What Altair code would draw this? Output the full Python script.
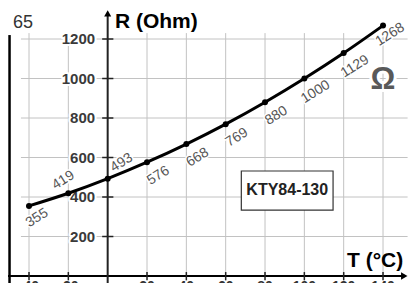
import altair as alt
import pandas as pd

# ---- data ----
temps = [-40, -20, 0, 20, 40, 60, 80, 100, 120, 140]
resist = [355, 419, 493, 576, 668, 769, 880, 1000, 1129, 1268]
y_ticks = [200, 400, 600, 800, 1000, 1200]
x_ticks = [-40, -20, 20, 40, 60, 80, 100, 120, 140]
x_tick_labels = ["-40", "-20", "20", "40", "60", "80", "100", "120", "140"]
y_title = "R (Ohm)"
x_title = "T (°C)"
unit = "Ω"
sensor = "KTY84-130"
corner = "P 65"

FONT = "Liberation Sans"
X_MIN, X_MAX = -50.68, 152.7
Y_MIN, Y_MAX = -35.4, 1357
xs = alt.Scale(domain=[X_MIN, X_MAX], nice=False, zero=False)
ys = alt.Scale(domain=[Y_MIN, Y_MAX], nice=False, zero=False)

curve = pd.DataFrame({"T": temps, "R": resist, "label": [str(r) for r in resist]})


def frame(n=1, **cols):
    """Small table for an annotation layer; scalars are broadcast."""
    d = {}
    for k, v in cols.items():
        d[k] = list(v) if isinstance(v, (list, tuple)) else [v] * n
    return pd.DataFrame(d)


def X(f="x"):
    return alt.X(f"{f}:Q", scale=xs, axis=None)


def Y(f="y"):
    return alt.Y(f"{f}:Q", scale=ys, axis=None)


def X2(f="x2"):
    return alt.X2(f"{f}:Q")


def Y2(f="y2"):
    return alt.Y2(f"{f}:Q")


nx, ny = len(x_ticks), len(y_ticks)
GRID = "#c2c2c2"
layers = []

# grid
layers.append(alt.Chart(frame(nx, x=x_ticks, y=0, y2=1230)).mark_rule(color=GRID, strokeWidth=1).encode(
    x=X(), y=Y(), y2=Y2()))
layers.append(alt.Chart(frame(ny, y=y_ticks, x=-44.1, x2=152.5)).mark_rule(color=GRID, strokeWidth=1).encode(
    y=Y(), x=X(), x2=X2()))

# left frame line
layers.append(alt.Chart(frame(x=-49.9, y=Y_MIN, y2=1220)).mark_rule(color="black", strokeWidth=2.5).encode(
    x=X(), y=Y(), y2=Y2()))


def halo_text(df, enc, halo_w, **mk):
    kw_h = dict(mk)
    kw_h.update(color="white", stroke="white", strokeWidth=halo_w, strokeJoin="round")
    return [alt.Chart(df).mark_text(**kw_h).encode(**enc),
            alt.Chart(df).mark_text(**mk).encode(**enc)]


# y labels with white halo
layers += halo_text(
    frame(ny, x=-6.4, y=y_ticks, label=[str(v) for v in y_ticks]),
    dict(x=X(), y=Y(), text="label:N"), 4,
    align="right", baseline="middle", font=FONT, fontSize=15, fontWeight="bold", color="#3a3a3a")

# point labels (rotated), offsets in the rotated frame
groups = [
    ([20, 40, 60, 80, 100, 120], 2.4, 17.3),
    ([-40], 0.4, 14.4),
    ([140], 1.2, 11.3),
    ([-20], 2.6, -13.7),
    ([0], 20.3, -6.2),
]
for members, dx, dy in groups:
    sub = curve[curve["T"].isin(members)]
    layers += halo_text(
        sub, dict(x=X("T"), y=Y("R"), text="label:N"), 3,
        align="center", baseline="middle", font=FONT, fontSize=14, color="#555555",
        angle=328, dx=dx, dy=dy)

# Omega
layers += halo_text(
    frame(x=140.0, y=990), dict(x=X(), y=Y()), 6,
    align="center", baseline="middle", font=FONT, fontSize=31, fontWeight="bold",
    color="#595959", text=unit)

# sensor box
layers.append(alt.Chart(frame(x=67.95, x2=114.6, y=334, y2=531.6)).mark_rect(
    fill="white", stroke="#333333", strokeWidth=1.2).encode(x=X(), x2=X2(), y=Y(), y2=Y2()))
layers.append(alt.Chart(frame(x=91.3, y=433)).mark_text(
    align="center", baseline="middle", font=FONT, fontSize=16, fontWeight="bold", color="#222222",
    text=sensor).encode(x=X(), y=Y()))

# x axis + ticks + arrow
layers.append(alt.Chart(frame(x=X_MIN, x2=150.5, y=0)).mark_rule(color="black", strokeWidth=2).encode(
    x=X(), x2=X2(), y=Y()))
layers.append(alt.Chart(frame(nx, x=x_ticks, y=-22, y2=20)).mark_rule(color="#222222", strokeWidth=1.5).encode(
    x=X(), y=Y(), y2=Y2()))
layers.append(alt.Chart(frame(x=150.8, y=0)).mark_point(
    shape="triangle-right", filled=True, size=55, color="black", opacity=1).encode(x=X(), y=Y()))

# y axis + ticks + arrow
layers.append(alt.Chart(frame(x=0, y=Y_MIN, y2=1320)).mark_rule(color="#222222", strokeWidth=2).encode(
    x=X(), y=Y(), y2=Y2()))
layers.append(alt.Chart(frame(ny, y=y_ticks, x=-2.8, x2=2.9)).mark_rule(color="#222222", strokeWidth=1.5).encode(
    y=Y(), x=X(), x2=X2()))
layers.append(alt.Chart(frame(x=0, y=1330)).mark_point(
    shape="triangle-up", filled=True, size=50, color="black", opacity=1).encode(x=X(), y=Y()))

# curve and points
layers.append(alt.Chart(curve).mark_line(color="black", strokeWidth=3, interpolate="monotone").encode(
    x=X("T"), y=Y("R")))
layers.append(alt.Chart(curve).mark_circle(color="black", size=36, opacity=1).encode(x=X("T"), y=Y("R")))

# titles
layers.append(alt.Chart(frame(x=3.7, y=1256)).mark_text(
    align="left", baseline="alphabetic", font=FONT, fontSize=21, fontWeight="bold", color="black",
    text=y_title).encode(x=X(), y=Y()))
layers.append(alt.Chart(frame(x=121.7, y=45.6)).mark_text(
    align="left", baseline="alphabetic", font=FONT, fontSize=21, fontWeight="bold", color="black",
    text=x_title).encode(x=X(), y=Y()))

# x tick labels (their tops peek below the axis, as in the reference)
layers.append(alt.Chart(frame(nx, x=x_ticks, y=-22, label=x_tick_labels)).mark_text(
    align="center", baseline="top", font=FONT, fontSize=14, fontWeight="bold", color="#333333").encode(
    x=X(), y=Y(), text="label:N"))

# corner fragment
layers.append(alt.Chart(frame(x=-38, y=1256)).mark_text(
    align="right", baseline="alphabetic", font=FONT, fontSize=18, color="#333333", text=corner).encode(
    x=X(), y=Y()))

chart = alt.layer(*layers).properties(
    width=400, height=275, autosize="none", padding=0, background="white"
).configure_view(stroke=None)

chart.save("out.html", embed_options={"renderer": "svg", "actions": False})
